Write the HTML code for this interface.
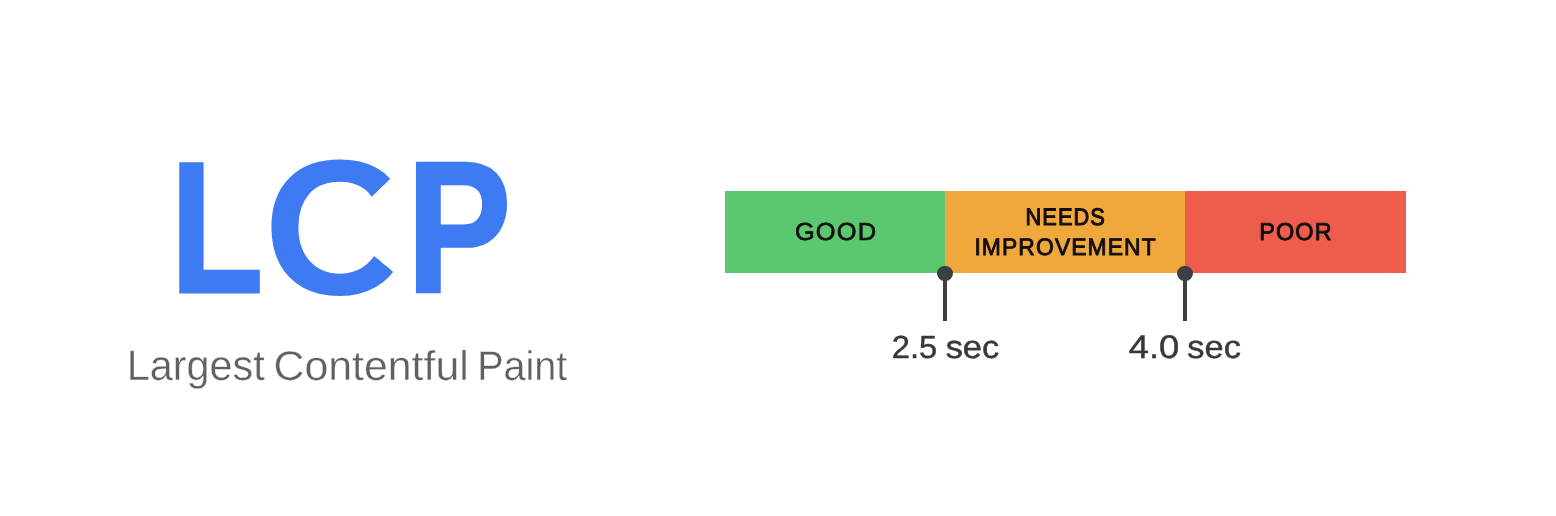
<!DOCTYPE html>
<html lang="en">
<head>
<meta charset="utf-8">
<title>LCP - Largest Contentful Paint</title>
<style>
html,body{margin:0;padding:0;background:#fff;}
body{width:1556px;height:516px;position:relative;overflow:hidden;font-family:"Liberation Sans",sans-serif;}
h1,p,ul,li{margin:0;padding:0;font-weight:normal;font-size:inherit;list-style:none;}
.t{position:absolute;white-space:nowrap;line-height:1;transform-origin:0 0;margin:0;text-rendering:geometricPrecision;}
.stage{position:absolute;left:0;top:0;width:1556px;height:516px;will-change:transform;}
.big{font-weight:bold;font-size:191px;color:#3e7af2;}
#bL{-webkit-text-stroke:2.9px;}
#bC{font-weight:normal;-webkit-text-stroke:9px;}
#bP{-webkit-text-stroke:2.6px;}
.clipC{position:absolute;left:0;top:0;width:1556px;height:516px;clip-path:polygon(0 0,575.5px 0,339.8px 227.6px,687.2px 516px,0 516px);}
.sub{font-size:41.3px;color:#5e6063;-webkit-text-stroke:0.35px #fff;}
.lab{font-size:25.3px;color:#0f0f0f;-webkit-text-stroke:0.95px;letter-spacing:1.2px;}
#good{-webkit-text-stroke-width:0.7px;}
#needs{-webkit-text-stroke-width:1.1px;}
#impr{-webkit-text-stroke-width:0.95px;}
#poor{-webkit-text-stroke-width:0.9px;}
.sec{font-size:32px;color:#36393c;-webkit-text-stroke:0.45px;}
.seg{position:absolute;top:191px;height:82px;}
.dot{position:absolute;width:15.6px;height:15.6px;border-radius:50%;background:#3c4043;top:265.8px;}
.stem{position:absolute;width:3.8px;top:273px;height:48.2px;background:#3c4043;}
</style>
</head>
<body>
<div class="stage">
<h1 aria-label="LCP"><span class="t big" id="bL" style="left:0;top:0;transform:translate(170.13px,134.53px) scale(0.7982,0.9769);">L</span><span class="clipC"><span class="t big" id="bC" style="left:0;top:0;transform:translate(266.35px,137.30px) scale(0.9950,0.9463);">C</span></span><span class="t big" id="bP" style="left:0;top:0;transform:translate(406.61px,134.41px) scale(0.8228,0.9810);">P</span></h1>
<p><span class="t sub" id="subL" style="left:0;top:0;transform:translate(126.69px,344.82px) scale(1.0026,1.0341);">Largest</span> <span class="t sub" id="subC" style="left:0;top:0;transform:translate(273.47px,345.49px) scale(1.0371,1.0058);">Contentful</span> <span class="t sub" id="subP" style="left:0;top:0;transform:translate(477.13px,345.89px) scale(0.9577,1.0022);">Paint</span></p>
<ul>
<li><div class="seg" style="left:725px;width:220.5px;background:#5bc870;"></div><span class="t lab" id="good" style="left:0;top:0;transform:translate(794.91px,220.82px) scale(1.0037,0.9712);">GOOD</span></li>
<li><div class="seg" style="left:945px;width:240.5px;background:#f0a83c;"></div><span class="t lab" id="needs" style="left:0;top:0;transform:translate(1025.54px,206.00px) scale(0.8614,0.9409);">NEEDS</span> <span class="t lab" id="impr" style="left:0;top:0;transform:translate(974.39px,236.40px) scale(0.9052,0.9428);">IMPROVEMENT</span></li>
<li><div class="seg" style="left:1185px;width:221px;background:#ee5d4c;"></div><span class="t lab" id="poor" style="left:0;top:0;transform:translate(1259.26px,220.99px) scale(0.9264,0.9702);">POOR</span></li>
</ul>
<div class="stem" style="left:943.2px;"></div>
<div class="stem" style="left:1183.2px;"></div>
<div class="dot" style="left:937.2px;"></div>
<div class="dot" style="left:1177.2px;"></div>
<p><span class="t sec" id="s25n" style="left:0;top:0;transform:translate(891.70px,331.07px) scale(1.0226,1.0019);">2.5</span> <span class="t sec" id="s25u" style="left:0;top:0;transform:translate(945.63px,331.19px) scale(1.0775,1.0000);">sec</span></p>
<p><span class="t sec" id="s40n" style="left:0;top:0;transform:translate(1128.70px,330.89px) scale(1.1363,1.0224);">4.0</span> <span class="t sec" id="s40u" style="left:0;top:0;transform:translate(1187.31px,331.06px) scale(1.0753,1.0080);">sec</span></p>
</div>
</body>
</html>
